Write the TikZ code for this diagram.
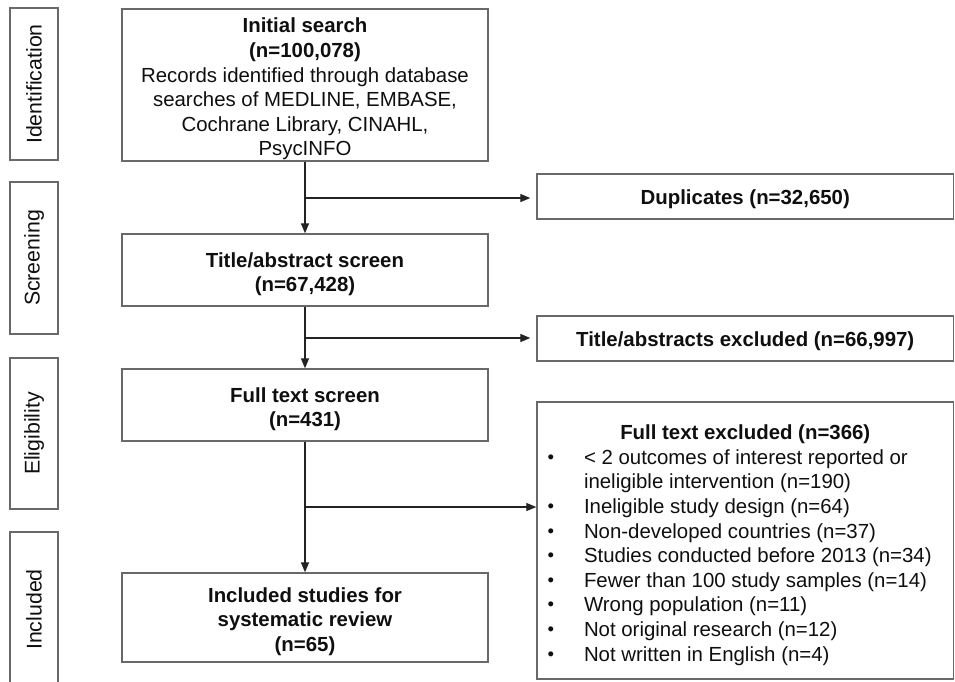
\documentclass[tikz,border=0pt]{standalone}
\usepackage{fontspec}
\setmainfont{Liberation Sans}
\usetikzlibrary{arrows.meta}
\definecolor{boxgray}{RGB}{105,105,105}
\definecolor{linegray}{RGB}{35,35,35}
\definecolor{txt}{RGB}{15,15,15}
\newcommand{\dn}{\rule{0pt}{23pt}}
\newcommand{\bul}{\hspace*{0.5pt}\raisebox{1pt}{\fontsize{18.5}{18.5}\selectfont\textbullet}}
\begin{document}
\begin{tikzpicture}[x=1pt,y=-1pt,
  box/.style={draw=boxgray, line width=1.4pt, inner sep=0pt, align=center, text=txt,
    font=\fontsize{20.4}{24.6}\selectfont},
  phase/.style={box, rotate=90, minimum height=48pt, font=\fontsize{21.3}{24.6}\selectfont},
  arr/.style={line width=1.3pt, draw=linegray, -{Triangle[length=10pt,width=8pt]}},
  ln/.style={line width=1.3pt, draw=linegray}]
\useasboundingbox[fill=white] (0,0) rectangle (955,681);

% phase labels
\node[phase, minimum width=152pt] (pid) at (34,84) {Identification};
\node[phase, minimum width=152pt] (psc) at (34,258) {Screening};
\node[phase, minimum width=151pt] (pel) at (34,433.5) {Eligibility};
\node[phase, minimum width=155pt] (pin) at (34,609.5) {Included};

% main column
\node[box, minimum width=366pt, minimum height=152pt] (init) at (305,85)
  {\dn\textbf{Initial search}\\\textbf{(n=100,078)}\\Records identified through database\\searches of MEDLINE, EMBASE,\\Cochrane Library, CINAHL,\\PsycINFO};
\node[box, minimum width=366pt, minimum height=72pt] (tas) at (305,270)
  {\dn\textbf{Title/abstract screen}\\\textbf{(n=67,428)}};
\node[box, minimum width=366pt, minimum height=72pt] (fts) at (305,405)
  {\dn\textbf{Full text screen}\\\textbf{(n=431)}};
\node[box, minimum width=366pt, minimum height=89pt] (inc) at (305,617.5)
  {\dn\textbf{Included studies for}\\\textbf{systematic review}\\\textbf{(n=65)}};

% right column
\node[box, minimum width=416.5pt, minimum height=45pt] (dup) at (745.25,196.5)
  {\rule{0pt}{21pt}\textbf{Duplicates (n=32,650)}};
\node[box, minimum width=416.5pt, minimum height=45pt] (tae) at (745.25,338.5)
  {\rule{0pt}{21pt}\textbf{Title/abstracts excluded (n=66,997)}};
\node[box, minimum width=416.5pt, minimum height=277pt] (fte) at (745.25,540.5)
  {\begin{tabular}{@{\hspace{10pt}}p{37pt}@{}p{369.5pt}@{}}
   \multicolumn{2}{@{}c@{}}{\rule{0pt}{27pt}\textbf{Full text excluded (n=366)}}\\
   \bul & < 2 outcomes of interest reported or\\
        & ineligible intervention (n=190)\\
   \bul & Ineligible study design (n=64)\\
   \bul & Non-developed countries (n=37)\\
   \bul & Studies conducted before 2013 (n=34)\\
   \bul & Fewer than 100 study samples (n=14)\\
   \bul & Wrong population (n=11)\\
   \bul & Not original research (n=12)\\
   \bul & Not written in English (n=4)
   \end{tabular}};

% branch points
\coordinate (b1) at (305,198);
\coordinate (b2) at (305,338);
\coordinate (b3) at (305,507);

% connectors
\draw[arr] (init.south) -- (tas.north);
\draw[arr] (tas.south) -- (fts.north);
\draw[arr] (fts.south) -- (inc.north);
\draw[arr, shorten >=6pt] (b1) -- (b1 -| dup.west);
\draw[arr, shorten >=6pt] (b2) -- (b2 -| tae.west);
\draw[arr] (b3) -- (b3 -| fte.west);
\end{tikzpicture}
\end{document}
